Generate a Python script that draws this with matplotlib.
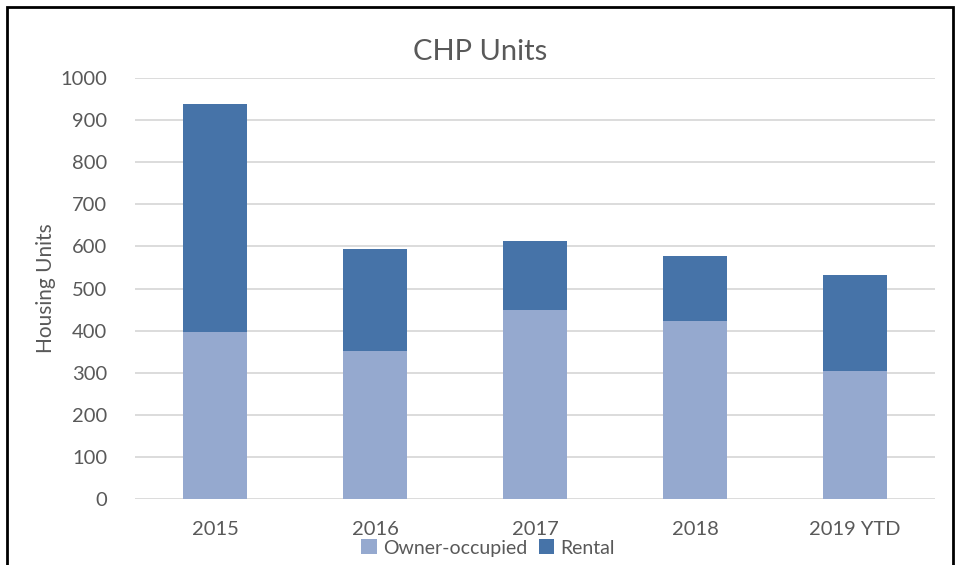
import matplotlib.pyplot as plt
import numpy as np
from matplotlib.patches import Rectangle

years = ["2015", "2016", "2017", "2018", "2019 YTD"]
owner = [397, 352, 449, 423, 304]
rental = [541, 243, 163, 154, 228]

plt.rcParams['font.family'] = ['Lato', 'DejaVu Sans']
grey = "#595959"

fig = plt.figure(figsize=(9.56, 5.65), dpi=100)
ax = fig.add_axes([135 / 956, 66 / 565, 800 / 956, 421 / 565])

x = np.arange(len(years))
ax.bar(x, owner, width=0.4, color="#95a9cf", label="Owner-occupied", zorder=3)
ax.bar(x, rental, width=0.4, bottom=owner, color="#4673a8", label="Rental", zorder=3)

ax.set_xlim(-0.5, len(years) - 0.5)
ax.set_ylim(0, 1000)
ax.set_yticks(range(0, 1001, 100))
ax.set_xticks(x)
ax.set_xticklabels(years)
ax.tick_params(length=0, labelsize=14.5, colors=grey)
ax.tick_params(axis='x', pad=16)
ax.tick_params(axis='y', pad=20)
ax.grid(axis='y', color="#d9d9d9", linewidth=1.3, zorder=0)
for s in ax.spines.values():
    s.set_visible(False)

ax.set_ylabel("Housing Units", fontsize=15, color=grey, labelpad=3)
fig.text(480 / 956, 1 - 52 / 565, "CHP Units", fontsize=21, color=grey, ha='center', va='center')

fig.legend(*ax.get_legend_handles_labels(), loc='center', bbox_to_anchor=(488 / 956, 1 - 548 / 565),
           ncol=2, frameon=False, fontsize=14, labelcolor=grey, handlelength=0.8, handleheight=0.8,
           handletextpad=0.3, columnspacing=0.6, borderaxespad=0, borderpad=0)

fig.patches.append(Rectangle((7 / 956, -0.05), 946 / 956, 1.05 - 7 / 565, transform=fig.transFigure,
                             fill=False, edgecolor='black', linewidth=2))

fig.savefig("out.png", dpi=100)
